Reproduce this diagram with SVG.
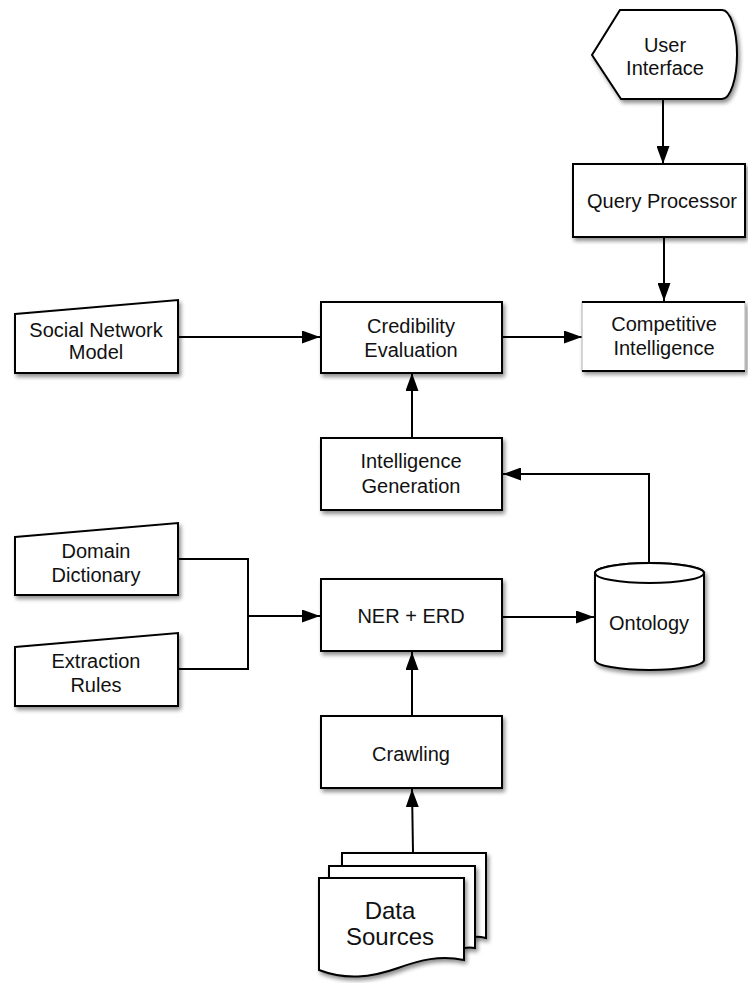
<svg xmlns="http://www.w3.org/2000/svg" width="748" height="983" viewBox="0 0 748 983">
  <defs>
    <filter id="shadow" x="-10%" y="-10%" width="125%" height="130%">
      <feGaussianBlur in="SourceAlpha" stdDeviation="2"/>
      <feOffset dx="2" dy="3" result="blur"/>
      <feComponentTransfer><feFuncA type="linear" slope="0.45"/></feComponentTransfer>
      <feMerge><feMergeNode/><feMergeNode in="SourceGraphic"/></feMerge>
    </filter>
    <marker id="arrow" viewBox="0 0 18 13" refX="18" refY="6.5" markerWidth="18" markerHeight="13" markerUnits="userSpaceOnUse" orient="auto">
      <path d="M0,0 L18,6.5 L0,13 Z" fill="#000"/>
    </marker>
  </defs>
  <style>
    .shape { fill: #fff; stroke: #000; stroke-width: 2; filter: url(#shadow); }
    .label { font-family: "Liberation Sans", Arial, Helvetica, sans-serif; font-size: 20px; fill: #111; text-anchor: middle; }
    .big { font-size: 24px; }
    .edge { fill: none; stroke: #000; stroke-width: 2; }
    .arr { marker-end: url(#arrow); }
  </style>
  <rect width="748" height="983" fill="#fff"/>

  <!-- connectors -->
  <g id="connectors">
    <line class="edge arr" x1="663" y1="99" x2="663" y2="164"/>
    <line class="edge arr" x1="664" y1="237" x2="664" y2="301"/>
    <line class="edge arr" x1="178" y1="337" x2="320" y2="337"/>
    <line class="edge arr" x1="502" y1="337" x2="582" y2="337"/>
    <line class="edge arr" x1="412" y1="438" x2="412" y2="373"/>
    <path class="edge arr" d="M649,563 V474 H503"/>
    <path class="edge" d="M178,559 H248 V669 H178"/>
    <line class="edge arr" x1="248" y1="616" x2="320" y2="616"/>
    <line class="edge arr" x1="502" y1="617" x2="594" y2="617"/>
    <line class="edge arr" x1="412" y1="716" x2="412" y2="652"/>
    <line class="edge arr" x1="413" y1="853" x2="412" y2="789"/>
  </g>

  <!-- display shape -->
  <g id="user-interface">
    <path class="shape" d="M620,10 L722,10 A15,44.5 0 0 1 722,99 L621,99 L592,55 Z"/>
    <text class="label" x="665" y="52">User</text>
    <text class="label" x="665" y="75">Interface</text>
  </g>

  <g id="query-processor">
    <rect class="shape" x="573" y="164" width="172" height="73"/>
    <text class="label" x="662" y="208">Query Processor</text>
  </g>

  <g id="competitive-intelligence">
    <rect x="582" y="302" width="163" height="69" fill="#fff" stroke="#b0b0b0" stroke-width="1" filter="url(#shadow)"/>
    <line x1="582" y1="302" x2="745" y2="302" stroke="#000" stroke-width="2"/>
    <line x1="582" y1="371" x2="745" y2="371" stroke="#000" stroke-width="2"/>
    <text class="label" x="664" y="331">Competitive</text>
    <text class="label" x="664" y="355">Intelligence</text>
  </g>

  <!-- manual input shapes -->
  <g id="social-network-model">
    <path class="shape" d="M15,314 L178,300 L178,373 L15,373 Z"/>
    <text class="label" x="96" y="337">Social Network</text>
    <text class="label" x="96" y="359">Model</text>
  </g>

  <g id="credibility-evaluation">
    <rect class="shape" x="321" y="302" width="181" height="71"/>
    <text class="label" x="411" y="333">Credibility</text>
    <text class="label" x="411" y="357">Evaluation</text>
  </g>

  <g id="intelligence-generation">
    <rect class="shape" x="321" y="438" width="181" height="72"/>
    <text class="label" x="411" y="468">Intelligence</text>
    <text class="label" x="411" y="493">Generation</text>
  </g>

  <g id="domain-dictionary">
    <path class="shape" d="M15,537 L178,523 L178,595 L15,595 Z"/>
    <text class="label" x="96" y="558">Domain</text>
    <text class="label" x="96" y="582">Dictionary</text>
  </g>

  <g id="extraction-rules">
    <path class="shape" d="M15,647 L178,633 L178,706 L15,706 Z"/>
    <text class="label" x="96" y="668">Extraction</text>
    <text class="label" x="96" y="692">Rules</text>
  </g>

  <g id="ner-erd">
    <rect class="shape" x="321" y="579" width="181" height="72"/>
    <text class="label" x="411" y="623">NER + ERD</text>
  </g>

  <!-- database cylinder -->
  <g id="ontology">
    <path class="shape" d="M595,573 V660 A54.5,10 0 0 0 704,660 V573 A54.5,10 0 0 0 595,573 Z"/>
    <ellipse cx="649.5" cy="573" rx="54.5" ry="10" fill="#fff" stroke="#000" stroke-width="2"/>
    <text class="label" x="649" y="630">Ontology</text>
  </g>

  <g id="crawling">
    <rect class="shape" x="321" y="716" width="181" height="72"/>
    <text class="label" x="411" y="761">Crawling</text>
  </g>

  <!-- stacked documents -->
  <g id="data-sources">
    <path class="shape" d="M342,853 H486 V938 C478,936 474,937 474,937 V866 H342 Z"/>
    <path class="shape" d="M329,866 H475 V948 C470,947 464,948 464,948 V878 H329 Z"/>
    <path class="shape" d="M319,878 H464 V960 C440,955 420,960 398,968 C370,978 345,980 319,970 Z"/>
    <text class="label big" x="390" y="919">Data</text>
    <text class="label big" x="390" y="945">Sources</text>
  </g>
</svg>
